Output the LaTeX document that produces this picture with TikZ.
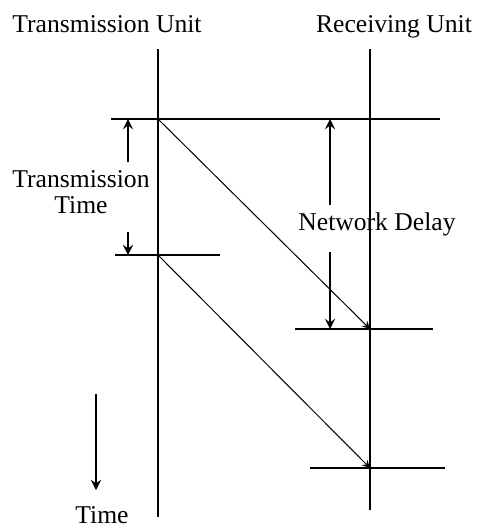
\documentclass[tikz,border=0pt]{standalone}
\usepackage{fontspec}
\setmainfont{Liberation Serif}
\begin{document}
\begin{tikzpicture}[x=0.4pt,y=-0.4pt,>=stealth,line width=0.8pt,
  lbl/.style={inner sep=0pt,anchor=base,font=\fontsize{10.25}{10.4}\selectfont,align=center},
  msg/.style={->,line width=0.4pt}]
  \useasboundingbox (0,0) rectangle (478,527);
  % unit labels and time lines
  \node[lbl] (txunit) at (107,32) {Transmission Unit};
  \node[lbl] (rxunit) at (394,32) {Receiving Unit};
  \coordinate (txtop) at (158,49);
  \coordinate (txbot) at (158,517);
  \coordinate (rxtop) at (370,49);
  \coordinate (rxbot) at (370,510);
  \draw (txtop) -- (txbot);
  \draw (rxtop) -- (rxbot);
  % events
  \coordinate (send1) at (158,119);
  \coordinate (send2) at (158,255);
  \coordinate (recv1) at (370,329);
  \coordinate (recv2) at (370,468);
  \draw (111,119) -- (440,119);
  \draw (115,255) -- (220,255);
  \draw (295,329) -- (433,329);
  \draw (310,468) -- (445,468);
  \draw[msg] (send1) -- (recv1);
  \draw[msg] (send2) -- (recv2);
  % transmission time
  \node[lbl] (txtime) at (81,213) {Transmission\\Time};
  \draw[->] (128,162) -- (128,119);
  \draw[->] (128,232) -- (128,255);
  % network delay
  \node[lbl] (delay) at (377,230) {Network Delay};
  \draw[->] (330,205) -- (330,119);
  \draw[->] (330,252) -- (330,329);
  % time direction
  \coordinate (tstart) at (96,394);
  \coordinate (tend) at (96,490);
  \draw[->] (tstart) -- (tend);
  \node[lbl] (time) at (102,523) {Time};
\end{tikzpicture}
\end{document}
